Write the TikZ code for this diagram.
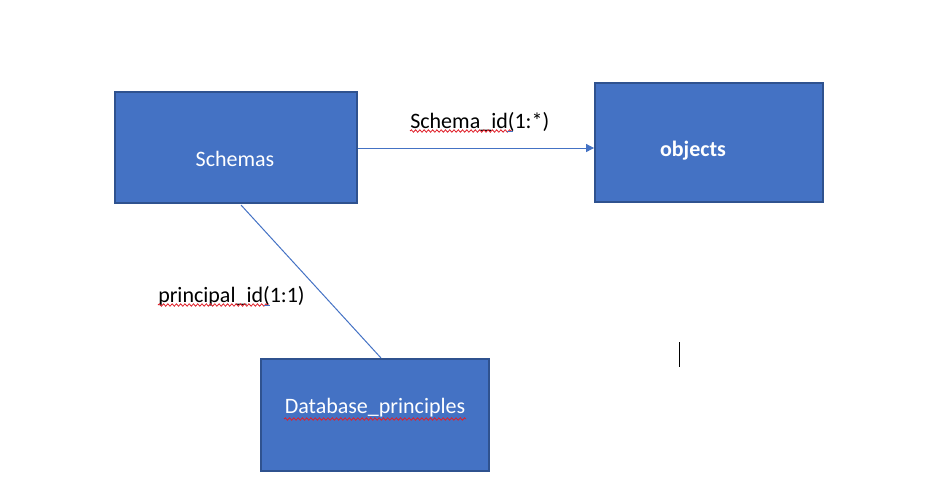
\documentclass[tikz,border=0pt]{standalone}
\usepackage{fontspec}
\setmainfont{Carlito}
\usetikzlibrary{arrows.meta,decorations.pathmorphing}
\definecolor{boxfill}{HTML}{4472C4}
\definecolor{boxdraw}{HTML}{2F528F}
\definecolor{squig}{HTML}{E0202A}
\begin{document}
\begin{tikzpicture}[x=0.75pt,y=-0.75pt,
  entity/.style={draw=boxdraw,line width=1.4pt,fill=boxfill,text=white,inner sep=0pt},
  etext/.style={text=white,font=\fontsize{16.5}{19}\selectfont,inner sep=0pt},
  conn/.style={draw=boxfill,line width=0.75pt},
  lbl/.style={font=\fontsize{16.5}{19}\selectfont,inner sep=0pt,anchor=west},
  wavy/.style={draw=squig,line width=0.6pt,decorate,decoration={snake,amplitude=0.9pt,segment length=3.2pt}}]
\useasboundingbox (0,0) rectangle (935,490);
\node[entity,minimum width=242*0.75pt,minimum height=111*0.75pt] (schemas) at (236,147.5) {};
\node[etext] (schemastxt) at (235,159) {Schemas};
\node[entity,minimum width=228*0.75pt,minimum height=119*0.75pt] (objects) at (709,142.5) {};
\node[etext,font=\fontsize{16.5}{19}\selectfont\bfseries] (objectstxt) at (693,151) {objects};
\node[entity,minimum width=228*0.75pt,minimum height=112*0.75pt] (dbp) at (375,415) {};
\node[etext] (dbptxt) at (375,408) {Database\_principles};
\draw[conn,-{Triangle[length=6pt,width=6pt]}] (schemas.east |- 0,148) -- (objects.west |- 0,148);
\draw[conn] (241,205) coordinate (a) -- (381,358) coordinate (b);
\node[lbl] (sid) at (410,122) {Schema\_id(1:*)};
\node[lbl] (pid) at (158,296) {principal\_id(1:1)};
\draw[wavy] (410,131) -- (512,131);
\draw[draw=boxfill,line width=0.6pt] (507,131.5) -- (513,131.5);
\draw[wavy] (158,305) -- (269,305);
\draw[draw=boxfill,line width=0.6pt] (264,305.5) -- (270,305.5);
\draw[wavy] (284,419) -- (466,419);
\draw[line width=0.6pt] (679,342) -- (679,367);
\end{tikzpicture}
\end{document}
